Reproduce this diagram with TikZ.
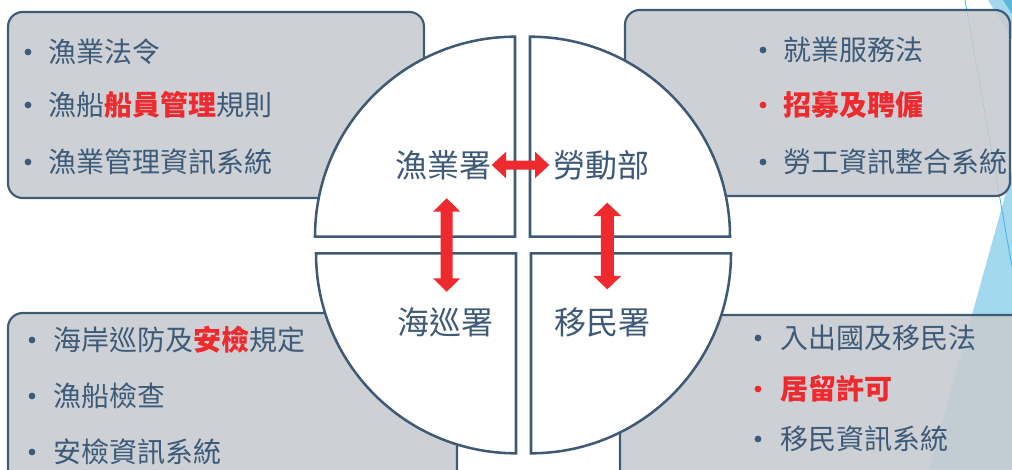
\documentclass[tikz,border=0pt]{standalone}
\usepackage{fontspec}
\setmainfont{Noto Sans CJK TC}
\definecolor{lineblue}{HTML}{3E5A74}
\definecolor{textblue}{HTML}{3D5A78}
\definecolor{boxgray}{HTML}{C6CBD0}
\definecolor{accred}{HTML}{EE2A2E}
\definecolor{skyblue}{HTML}{A3D9EE}
\definecolor{deepsky}{HTML}{5DB6DA}
\definecolor{thinsky}{HTML}{3BB4E0}
\begin{document}
\begin{tikzpicture}[x=0.75pt,y=0.75pt,
  graybox/.style={draw=lineblue, line width=1.6pt, fill=boxgray, fill opacity=0.88, draw opacity=1, rounded corners=11pt},
  quad/.style={draw=lineblue, line width=1.9pt, fill=white},
  item/.style={anchor=west, inner sep=0pt, text=textblue, font=\fontsize{21pt}{24pt}\selectfont},
  ritem/.style={item, text=accred, font=\fontsize{21pt}{24pt}\selectfont\bfseries},
  quadlabel/.style={inner sep=0pt, text=textblue, font=\fontsize{24pt}{28pt}\selectfont},
  blockarrow/.style={fill=accred}]
\useasboundingbox (0,0) rectangle (1012,469);
\clip (0,0) rectangle (1012,469);
% decoration at right edge
\fill[skyblue] (1012,298) -- (1012,0) -- (929,0) -- cycle;
\fill[skyblue] (988,469) -- (1012,469) -- (1012,430) -- cycle;
\fill[deepsky] (1003,469) -- (1012,469) -- (1012,455) -- cycle;
\draw[thinsky, line width=0.6pt] (965,469) -- (1012,202);
% gray boxes
\path[graybox] (8,271) rectangle (424,457);
\path[graybox] (625,273) rectangle (1010,459);
\path[graybox] (8,-25) rectangle (457,156);
\path[graybox] (620,-25) rectangle (1040,154);
% quadrants
\path[quad] (515,232.3) -- (315,232.3) arc[start angle=180, end angle=90, radius=200] -- cycle;
\path[quad] (530,232.3) -- (530,432.3) arc[start angle=90, end angle=0, radius=200] -- cycle;
\path[quad] (516,215.7) -- (516,15.7) arc[start angle=270, end angle=180, radius=200] -- cycle;
\path[quad] (531,215.7) -- (731,215.7) arc[start angle=0, end angle=-90, radius=200] -- cycle;
% quadrant labels
\node[quadlabel] (fish) at (443,304) {漁業署};
\node[quadlabel] (labor) at (601,304) {勞動部};
\node[quadlabel] (coast) at (445,147) {海巡署};
\node[quadlabel] (immi) at (602,147) {移民署};
% top-left list
\fill[textblue] (28,417) circle (3.4);
\node[item] (tl1) at (48,417) {漁業法令};
\fill[textblue] (28,364) circle (3.4);
\node[item] (tl2) at (48,364) {漁船{\color{accred}\bfseries 船員管理}規則};
\fill[textblue] (28,307) circle (3.4);
\node[item] (tl3) at (48,307) {漁業管理資訊系統};
% top-right list
\fill[textblue] (763,419) circle (3.4);
\node[item] (tr1) at (783,419) {就業服務法};
\fill[accred] (763,364) circle (3.4);
\node[ritem] (tr2) at (783,364) {招募及聘僱};
\fill[textblue] (763,307) circle (3.4);
\node[item] (tr3) at (783,307) {勞工資訊整合系統};
% bottom-left list
\fill[textblue] (32,129) circle (3.4);
\node[item] (bl1) at (53,129) {海岸巡防及{\color{accred}\bfseries 安檢}規定};
\fill[textblue] (32,73) circle (3.4);
\node[item] (bl2) at (53,73) {漁船檢查};
\fill[textblue] (32,17) circle (3.4);
\node[item] (bl3) at (53,17) {安檢資訊系統};
% bottom-right list
\fill[textblue] (758,131) circle (3.4);
\node[item] (br1) at (780,131) {入出國及移民法};
\fill[accred] (758,80) circle (3.4);
\node[ritem] (br2) at (780,80) {居留許可};
\fill[textblue] (758,30) circle (3.4);
\node[item] (br3) at (780,30) {移民資訊系統};
% block arrows
\fill[blockarrow] (491.7,304) -- (506,317.3) -- (506,308.5) -- (535,308.5) -- (535,317.3) -- (549.3,304)
  -- (535,290.7) -- (535,299.5) -- (506,299.5) -- (506,290.7) -- cycle;
\fill[blockarrow] (446.7,270.7) -- (460.4,257.3) -- (452.7,257.3) -- (452.7,190.7) -- (460.4,190.7) -- (446.7,177.3)
  -- (433,190.7) -- (440.7,190.7) -- (440.7,257.3) -- (433,257.3) -- cycle;
\fill[blockarrow] (607.3,266.3) -- (621.3,252.9) -- (613.8,252.9) -- (613.8,193.1) -- (621.3,193.1) -- (607.3,179.7)
  -- (593.3,193.1) -- (600.8,193.1) -- (600.8,252.9) -- (593.3,252.9) -- cycle;
\end{tikzpicture}
\end{document}
